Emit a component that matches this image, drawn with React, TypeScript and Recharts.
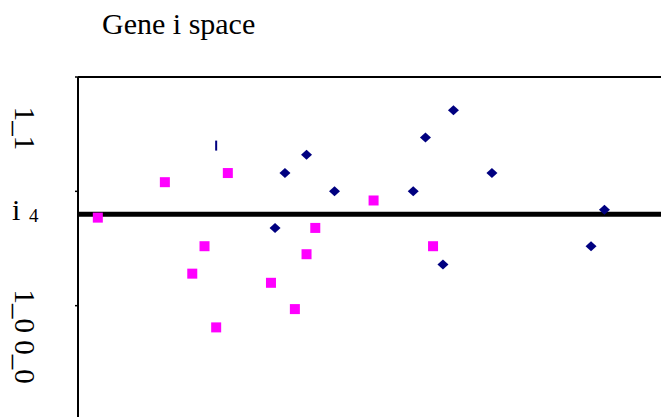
import { ScatterChart, Scatter, XAxis, YAxis, ReferenceLine } from "recharts";

const squarePoints = [
  { x: 0.34, y: 0.77 },
  { x: 1.49, y: 1.08 },
  { x: 2.57, y: 1.16 },
  { x: 2.17, y: 0.52 },
  { x: 1.96, y: 0.28 },
  { x: 2.37, y: -0.19 },
  { x: 3.31, y: 0.2 },
  { x: 3.72, y: -0.03 },
  { x: 3.92, y: 0.45 },
  { x: 4.07, y: 0.68 },
  { x: 5.07, y: 0.92 },
  { x: 6.09, y: 0.52 },
];

const diamondPoints = [
  { x: 3.92, y: 1.32 },
  { x: 3.55, y: 1.16 },
  { x: 4.4, y: 1.0 },
  { x: 3.38, y: 0.68 },
  { x: 5.75, y: 1.0 },
  { x: 5.96, y: 1.47 },
  { x: 6.44, y: 1.71 },
  { x: 7.1, y: 1.16 },
  { x: 6.26, y: 0.36 },
  { x: 8.8, y: 0.52 },
  { x: 9.03, y: 0.84 },
];

const markPoints = [{ x: 2.37, y: 1.4 }];

const yTicks = [2, 1, 0, -1];
const labelTicks = [1.55, 0.81, -0.27];
const labelTexts = ["1_1", "i 4", "1_0 0_0"];
const baselineValue = 0.8;
const title = "Gene i space";

const serif = { fontFamily: "Liberation Serif, Times New Roman, DejaVu Serif, serif" };

function AxisTick(props: any) {
  const { x, y, payload } = props;
  const i = labelTicks.indexOf(payload.value);
  if (i < 0) {
    return <line x1={x - 3} x2={x} y1={y} y2={y} stroke="#000" strokeWidth={1.5} />;
  }
  const text = labelTexts[i];
  if (text.startsWith("i ")) {
    const [a, b] = text.split(" ");
    return (
      <text y={y + 7} style={serif} fill="#000">
        <tspan x={12} fontSize={30}>{a}</tspan>
        <tspan x={29} dy={2} fontSize={19}>{b}</tspan>
      </text>
    );
  }
  return (
    <text
      x={15}
      y={y}
      transform={`rotate(90, 15, ${y})`}
      textAnchor="middle"
      style={serif}
      fontSize={29}
      fill="#000"
    >
      {text}
    </text>
  );
}

const square = (p: any) => (
  <rect x={p.cx - 5} y={p.cy - 5} width={10} height={10} fill="#FF00FF" />
);

const diamond = (p: any) => (
  <polygon
    points={`${p.cx - 5.5},${p.cy} ${p.cx},${p.cy - 5} ${p.cx + 5.5},${p.cy} ${p.cx},${p.cy + 5}`}
    fill="#000080"
  />
);

const mark = (p: any) => (
  <rect x={p.cx - 1} y={p.cy - 5} width={2} height={10} fill="#000080" />
);

export default function App() {
  return (
    <div
      style={{
        position: "fixed",
        left: 0,
        top: 0,
        width: 661,
        height: 417,
        overflow: "hidden",
        background: "#fff",
      }}
    >
      <ScatterChart width={661} height={430} margin={{ top: 77, right: 0, bottom: 10, left: 0 }}>
        <XAxis type="number" dataKey="x" domain={[0, 10]} hide />
        <YAxis
          type="number"
          dataKey="y"
          domain={[-1, 2]}
          ticks={[...yTicks, ...labelTicks].sort((a, b) => b - a)}
          interval={0}
          width={78}
          tickSize={0}
          tickMargin={0}
          tickLine={false}
          axisLine={{ stroke: "#000", strokeWidth: 2 }}
          tick={<AxisTick />}
        />
        <Scatter data={squarePoints} shape={square} isAnimationActive={false} />
        <Scatter data={diamondPoints} shape={diamond} isAnimationActive={false} />
        <Scatter data={markPoints} shape={mark} isAnimationActive={false} />
        <ReferenceLine y={2} stroke="#000" strokeWidth={2} />
        <ReferenceLine y={baselineValue} stroke="#000" strokeWidth={5} />
      </ScatterChart>
      <svg
        width={661}
        height={60}
        style={{ position: "absolute", left: 0, top: 0, pointerEvents: "none" }}
      >
        <text x={102} y={34} style={serif} fontSize={30} fill="#000">
          {title}
        </text>
      </svg>
    </div>
  );
}
